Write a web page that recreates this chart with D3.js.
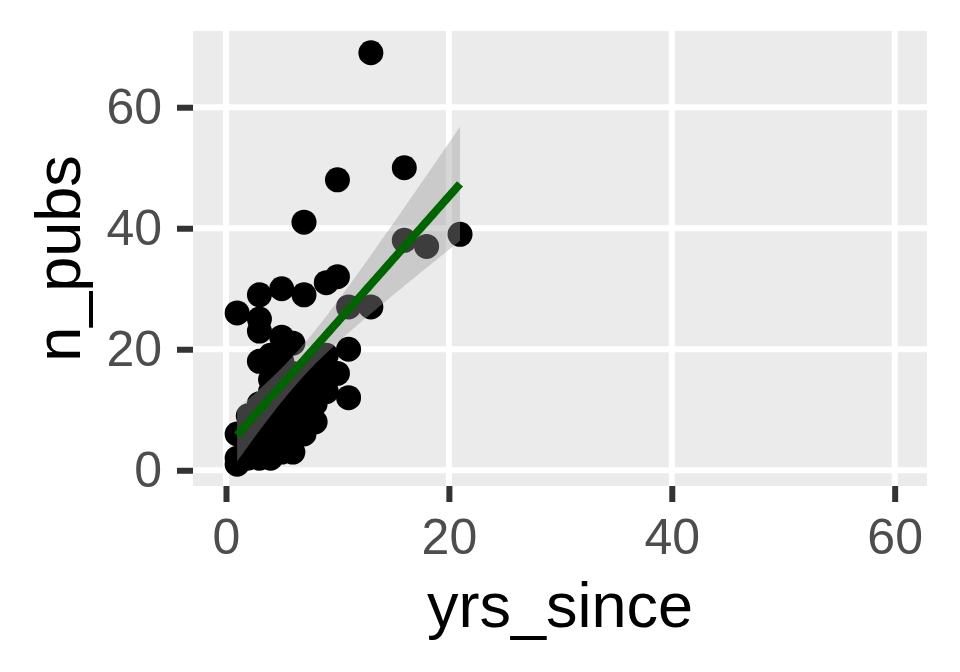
<!DOCTYPE html>
<html>
<head>
<meta charset="utf-8">
<script src="https://cdn.jsdelivr.net/npm/d3@7"></script>
<style>
  html, body { margin: 0; padding: 0; background: #ffffff; }
  svg { display: block; }
</style>
</head>
<body>
<svg id="chart" width="960" height="672"></svg>
<script>
// ---- data ----
const yrsSince = [13,16,10,7,21,18,16,10,9,5,3,7,13,11,1,3,3,5,6,11,3,4,5,8,9,7,8,
                  1,1,2,3,3,3,4,4,4,5,5,5,6,6,6,6,7,7,7,8,8,8,9,9,10,11,2,5,4,
                  2,3,4,2,5,1,2];
const nPubs    = [69,50,48,41,39,37,38,32,31,30,29,29,27,27,26,25,23,22,21,20,18,19,18,18,19,16,17,
                  1,6,9,2,11,7,4,9,13,6,10,14,3,8,12,16,6,10,13,8,11,14,13,15,16,12,5,3,15,
                  3,5,2,6,5,2,2];
const xTicks = [0, 20, 40, 60];
const yTicks = [0, 20, 40, 60];
const xDomain = [-2.96, 62.9];
const yDomain = [-2.6, 72.6];

const points = yrsSince.map((x, i) => ({x, y: nPubs[i]}));

// ---- layout ----
const svg = d3.select("#chart");
const panel = {left: 193, right: 927, top: 31, bottom: 486};
const x = d3.scaleLinear().domain(xDomain).range([panel.left, panel.right]);
const y = d3.scaleLinear().domain(yDomain).range([panel.bottom, panel.top]);

// panel background
svg.append("rect")
  .attr("x", panel.left).attr("y", panel.top)
  .attr("width", panel.right - panel.left).attr("height", panel.bottom - panel.top)
  .attr("fill", "#EBEBEB");

// grid lines
const grid = svg.append("g");
grid.selectAll(".gx").data(xTicks).enter().append("line")
  .attr("x1", d => x(d)).attr("x2", d => x(d))
  .attr("y1", panel.top).attr("y2", panel.bottom)
  .attr("stroke", "#ffffff").attr("stroke-width", 6);
grid.selectAll(".gy").data(yTicks).enter().append("line")
  .attr("y1", d => y(d)).attr("y2", d => y(d))
  .attr("x1", panel.left).attr("x2", panel.right)
  .attr("stroke", "#ffffff").attr("stroke-width", 6);

// points
svg.append("g").selectAll("circle").data(points).enter().append("circle")
  .attr("cx", d => x(d.x)).attr("cy", d => y(d.y))
  .attr("r", 12.5).attr("fill", "#000000");

// linear fit with 95% confidence band
const n = points.length;
const mx = d3.mean(points, d => d.x), my = d3.mean(points, d => d.y);
const sxx = d3.sum(points, d => (d.x - mx) ** 2);
const sxy = d3.sum(points, d => (d.x - mx) * (d.y - my));
const b1 = sxy / sxx, b0 = my - b1 * mx;
const sse = d3.sum(points, d => (d.y - (b0 + b1 * d.x)) ** 2);
const s = Math.sqrt(sse / (n - 2));
const df = n - 2, z = 1.959964;
const tq = z + (z ** 3 + z) / (4 * df) + (5 * z ** 5 + 16 * z ** 3 + 3 * z) / (96 * df * df);
const [xmin, xmax] = d3.extent(points, d => d.x);
const fit = d3.range(0, 81).map(i => {
  const xv = xmin + (xmax - xmin) * i / 80;
  const yv = b0 + b1 * xv;
  const se = s * Math.sqrt(1 / n + (xv - mx) ** 2 / sxx);
  return {x: xv, y: yv, lo: yv - tq * se, hi: yv + tq * se};
});

svg.append("path").datum(fit)
  .attr("d", d3.area().x(d => x(d.x)).y0(d => y(d.lo)).y1(d => y(d.hi)))
  .attr("fill", "#999999").attr("fill-opacity", 0.4);

svg.append("path").datum(fit)
  .attr("d", d3.line().x(d => x(d.x)).y(d => y(d.y)))
  .attr("fill", "none").attr("stroke", "#006400").attr("stroke-width", 8);

// axes
const font = "'Liberation Sans', Arial, sans-serif";
const xAxis = d3.axisBottom(x).tickValues(xTicks).tickSize(16).tickPadding(16);
const yAxis = d3.axisLeft(y).tickValues(yTicks).tickSize(16).tickPadding(15);

const gx = svg.append("g").attr("transform", `translate(0,${panel.bottom})`).call(xAxis);
const gy = svg.append("g").attr("transform", `translate(${panel.left},0)`).call(yAxis);
[gx, gy].forEach(g => {
  g.select(".domain").remove();
  g.selectAll(".tick line").attr("stroke", "#333333").attr("stroke-width", 6);
  g.selectAll(".tick text").attr("fill", "#4D4D4D")
    .style("font-family", font).style("font-size", "50px");
});

// axis titles
svg.append("text")
  .attr("x", (panel.left + panel.right) / 2).attr("y", 627)
  .attr("text-anchor", "middle")
  .style("font-family", font).style("font-size", "63px").attr("fill", "#000000")
  .text("yrs_since");

svg.append("text")
  .attr("transform", `translate(80,${(panel.top + panel.bottom) / 2}) rotate(-90)`)
  .attr("text-anchor", "middle")
  .style("font-family", font).style("font-size", "63px").attr("fill", "#000000")
  .text("n_pubs");
</script>
</body>
</html>
